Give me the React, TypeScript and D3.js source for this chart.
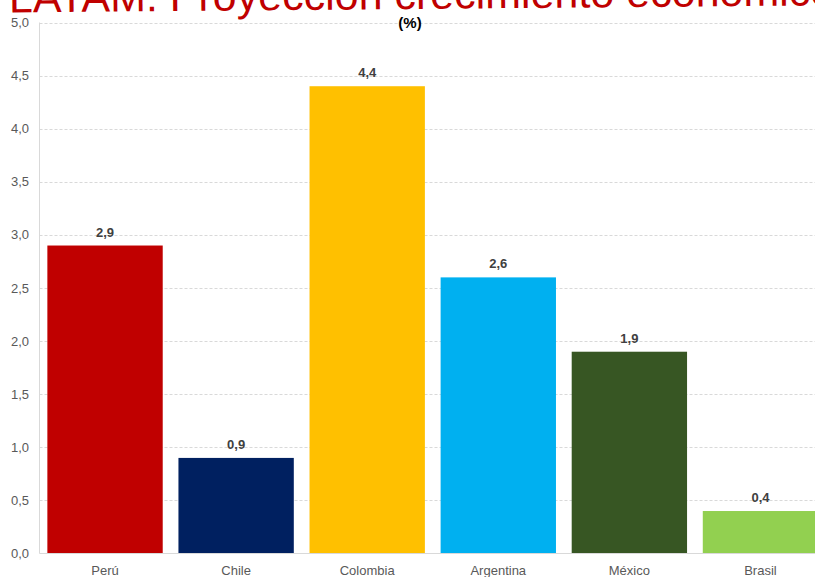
import React from "react";
import * as d3 from "d3";

const categories = ["Perú", "Chile", "Colombia", "Argentina", "México", "Brasil"];
const values = [2.9, 0.9, 4.4, 2.6, 1.9, 0.4];
const colors = ["#C00000", "#002060", "#FFC000", "#00B0F0", "#375623", "#92D050"];
const yTicks = [0, 0.5, 1, 1.5, 2, 2.5, 3, 3.5, 4, 4.5, 5];
const title = "LATAM: Proyección crecimiento económico";
const subtitle = "(%)";

const W = 815;
const H = 577;
const left = 39.5;
const top = 22.5;
const bottom = 553.5;

export default function App() {
  const x = d3.scaleBand<string>().domain(categories).range([left, 826]).paddingInner(0.12).paddingOuter(0.06);
  const y = d3.scaleLinear().domain([0, 5]).range([bottom, top]);
  const fmt = (v: number) => v.toFixed(1).replace(".", ",");
  const font = "Liberation Sans, Arial, sans-serif";
  return (
    <svg width={W} height={H} style={{ position: "absolute", left: 0, top: 0, display: "block" }} fontFamily={font}>
      <rect width={W} height={H} fill="#fff" />
      {yTicks.map((t) => (
        <g key={t}>
          {t > 0 && (
            <line x1={left} x2={W} y1={Math.round(y(t)) + 0.5} y2={Math.round(y(t)) + 0.5} stroke="#D9D9D9" strokeDasharray="3,2" />
          )}
          <text x={29} y={y(t)} dy="0.35em" textAnchor="end" fontSize={13} fill="#595959">
            {fmt(t)}
          </text>
        </g>
      ))}
      {categories.map((c, i) => (
        <g key={c}>
          <rect x={x(c)} y={y(values[i])} width={x.bandwidth()} height={y(0) - y(values[i])} fill={colors[i]} />
          <text x={(x(c) as number) + x.bandwidth() / 2} y={y(values[i]) - 9} textAnchor="middle" fontSize={13} fontWeight="bold" fill="#404040">
            {fmt(values[i])}
          </text>
          <text x={(x(c) as number) + x.bandwidth() / 2} y={575} textAnchor="middle" fontSize={13} fill="#595959">
            {c}
          </text>
        </g>
      ))}
      <line x1={left} x2={left} y1={top} y2={bottom} stroke="#D9D9D9" />
      <line x1={left} x2={W} y1={bottom} y2={bottom} stroke="#D9D9D9" />
      <text x={9} y={12.5} fontSize={43} fill="#C00000" transform="rotate(-0.5, 9, 12.5)">{title}</text>
      <text x={410} y={28} textAnchor="middle" fontSize={15} fontWeight="bold" fill="#000">{subtitle}</text>
    </svg>
  );
}
